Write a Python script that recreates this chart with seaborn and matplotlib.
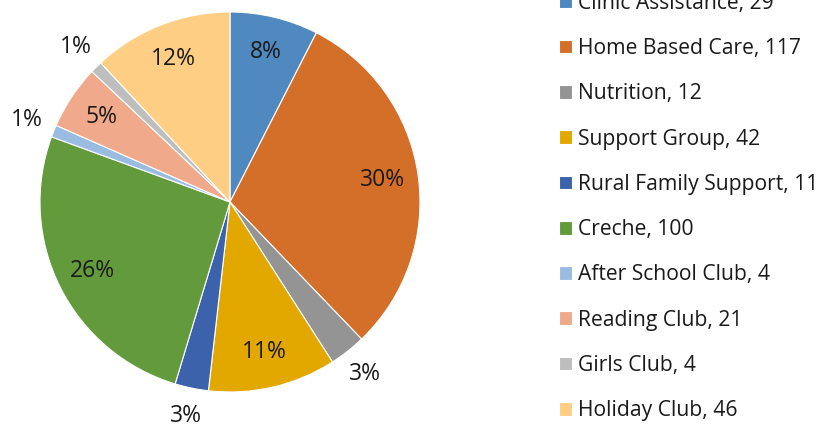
import numpy as np
import seaborn as sns
import matplotlib.pyplot as plt

# data
categories = ["Clinic Assistance", "Home Based Care", "Nutrition", "Support Group",
              "Rural Family Support", "Creche", "After School Club", "Reading Club",
              "Girls Club", "Holiday Club"]
counts = [29, 117, 12, 42, 11, 100, 4, 21, 4, 46]
colors = ["#4F89C0", "#D46F2A", "#949494", "#E2A800", "#3C62AC",
          "#639B3C", "#9BBCE1", "#F0A98A", "#BEBEBE", "#FECE85"]

sns.set_style("white")
plt.rcParams['font.family'] = ['Open Sans', 'DejaVu Sans']
plt.rcParams['text.color'] = '#1a1a1a'

fig = plt.figure(figsize=(8.33, 4.26), dpi=100)
W, H = 833, 426
cx, cy, r = 230, 202, 190
ax = fig.add_axes([(cx - r) / W, (H - cy - r) / H, 2 * r / W, 2 * r / H])

total = sum(counts)
wedges, texts, autotexts = ax.pie(
    counts, colors=colors, startangle=90, counterclock=False,
    autopct=lambda p: f"{p:.0f}%", pctdistance=0.81,
    wedgeprops=dict(edgecolor="white", linewidth=0.8),
    textprops=dict(fontsize=16.5, color="#1a1a1a"))
ax.set_xlim(-1, 1)
ax.set_ylim(-1, 1)
ax.set_aspect("equal")

# small slices get their labels outside
for w, t, c in zip(wedges, autotexts, counts):
    if c / total < 0.04:
        ang = np.deg2rad((w.theta1 + w.theta2) / 2)
        t.set_position((1.15 * np.cos(ang), 1.15 * np.sin(ang)))

labels = [f"{n}, {v}" for n, v in zip(categories, counts)]
fig.legend(wedges, labels, loc="center left", bbox_to_anchor=(559 / W, 1 - 207 / H),
           frameon=False, fontsize=15.2, borderpad=0, handlelength=0.62,
           handleheight=0.62, handletextpad=0.3, labelspacing=1.15, borderaxespad=0)

plt.savefig("out.png", dpi=100)
